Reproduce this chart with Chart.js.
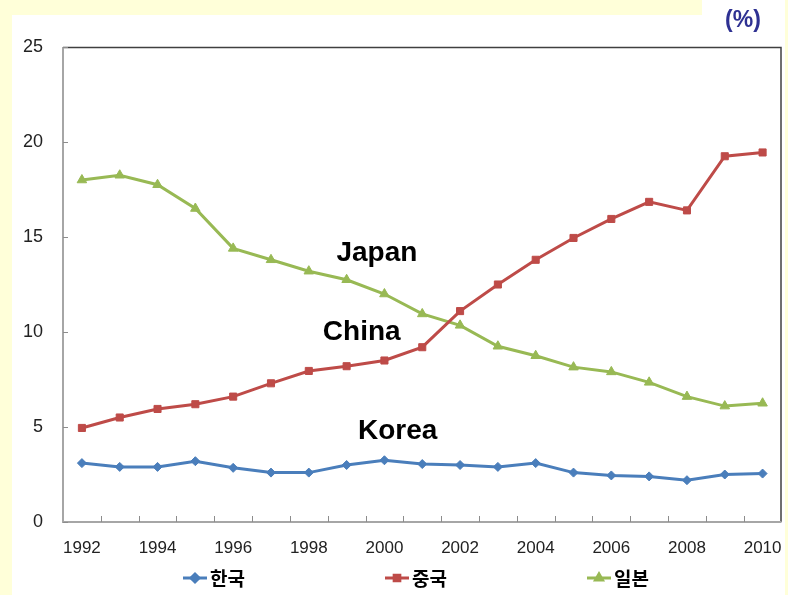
<!DOCTYPE html>
<html>
<head>
<meta charset="utf-8">
<script src="https://cdn.jsdelivr.net/npm/chart.js@4/dist/chart.umd.min.js"></script>
<style>
  html, body { margin: 0; padding: 0; background: #fff; }
  #wrap { width: 788px; height: 595px; position: relative; }
</style>
</head>
<body>
<div id="wrap"><canvas id="c" width="788" height="595"></canvas></div>
<script>
var years = ['1992','1993','1994','1995','1996','1997','1998','1999','2000','2001',
             '2002','2003','2004','2005','2006','2007','2008','2009','2010'];
var korea = [3.1, 2.9, 2.9, 3.2, 2.85, 2.6, 2.6, 3.0, 3.25, 3.05, 3.0, 2.9, 3.1, 2.6, 2.45, 2.4, 2.2, 2.5, 2.55];
var china = [4.95, 5.5, 5.95, 6.2, 6.6, 7.3, 7.95, 8.2, 8.5, 9.2, 11.1, 12.5, 13.8, 14.95, 15.95, 16.85, 16.4, 19.25, 19.45];
var japan = [18.0, 18.25, 17.75, 16.5, 14.4, 13.8, 13.2, 12.75, 12.0, 10.95, 10.35, 9.25, 8.75, 8.15, 7.9, 7.35, 6.6, 6.1, 6.25];
var seriesNames = ['한국', '중국', '일본'];
var yTicks = [0, 5, 10, 15, 20, 25];
// text labels placed in data space: [text, category index, value]
var callouts = [['Japan', 7.8, 14.15], ['China', 7.4, 10.0], ['Korea', 8.35, 4.75]];

var blue = '#4a7ebb', red = '#be4b48', green = '#98b954';

// yellow frame, plot frame, inside ticks, callouts and the legend
var decor = {
    id: 'decor',
    beforeDraw: function(chart) {
        var ctx = chart.ctx;
        ctx.save();
        ctx.fillStyle = '#ffffff';
        ctx.fillRect(0, 0, chart.width, chart.height);
        ctx.fillStyle = '#ffffd9';
        ctx.fillRect(0, 0, 12, chart.height);
        ctx.fillRect(0, 0, 702, 15);
        ctx.fillRect(785, 0, 3, chart.height);
        ctx.restore();
    },
    afterDatasetsDraw: function(chart) {
        var ctx = chart.ctx, a = chart.chartArea;
        var xs = chart.scales.x, ys = chart.scales.y;
        ctx.save();
        // top and right edges
        ctx.strokeStyle = '#404040';
        ctx.lineWidth = 1.5;
        ctx.beginPath();
        ctx.moveTo(a.left, a.top + 0.5);
        ctx.lineTo(a.right - 0.5, a.top + 0.5);
        ctx.lineTo(a.right - 0.5, a.bottom);
        ctx.stroke();
        // axes
        ctx.strokeStyle = '#a6a6a6';
        ctx.lineWidth = 2;
        ctx.beginPath();
        ctx.moveTo(a.left, a.top);
        ctx.lineTo(a.left, a.bottom);
        ctx.lineTo(a.right, a.bottom);
        ctx.stroke();
        // tick marks pointing into the plot
        ctx.lineWidth = 1;
        ctx.strokeStyle = '#8c8c8c';
        ctx.beginPath();
        yTicks.forEach(function(v) {
            var y = Math.round(ys.getPixelForValue(v)) + 0.5;
            ctx.moveTo(a.left, y);
            ctx.lineTo(a.left + 5, y);
        });
        for (var i = 1; i < years.length; i++) {
            var x = Math.round((xs.getPixelForValue(i - 1) + xs.getPixelForValue(i)) / 2) + 0.5;
            ctx.moveTo(x, a.bottom);
            ctx.lineTo(x, a.bottom - 6);
        }
        ctx.stroke();

        // callouts
        ctx.fillStyle = '#000';
        ctx.font = 'bold 28px "Liberation Sans", Arial, sans-serif';
        ctx.textAlign = 'center';
        ctx.textBaseline = 'middle';
        callouts.forEach(function(c) {
            ctx.fillText(c[0], xs.getPixelForValue(c[1]), ys.getPixelForValue(c[2]));
        });

        // unit
        ctx.fillStyle = '#2e3192';
        ctx.font = 'bold 23px "Liberation Sans", Arial, sans-serif';
        ctx.fillText('(%)', 743, 21);

        // legend
        var ly = 578, startX = 183, step = 202;
        chart.data.datasets.forEach(function(ds, k) {
            var x0 = startX + k * step;
            ctx.strokeStyle = ds.borderColor;
            ctx.lineWidth = 3;
            ctx.beginPath();
            ctx.moveTo(x0, ly);
            ctx.lineTo(x0 + 24, ly);
            ctx.stroke();
            Chart.helpers.drawPoint(ctx, {
                pointStyle: ds.pointStyle, radius: 4, rotation: 0, borderWidth: 1
            }, x0 + 12, ly);
            ctx.fillStyle = ds.borderColor;
            ctx.fill();
            ctx.fillStyle = '#000';
            ctx.textAlign = 'left';
            ctx.font = 'bold 19px "Noto Sans CJK KR", sans-serif';
            ctx.fillText(ds.label, x0 + 27, ly + 1);
        });
        ctx.restore();
    }
};

function series(label, data, color, style, r) {
    return {
        label: label,
        data: data,
        borderColor: color,
        backgroundColor: color,
        borderWidth: 3,
        pointStyle: style,
        pointRadius: r,
        pointBorderWidth: 1,
        tension: 0
    };
}

new Chart(document.getElementById('c'), {
    type: 'line',
    data: {
        labels: years,
        datasets: [
            series(seriesNames[0], korea, blue, 'rectRot', 4.5),
            series(seriesNames[1], china, red, 'rect', 5),
            series(seriesNames[2], japan, green, 'triangle', 5.5)
        ]
    },
    options: {
        responsive: false,
        animation: false,
        layout: { padding: { top: 47, right: 5, bottom: 0, left: 0 } },
        plugins: { legend: { display: false }, tooltip: { enabled: false } },
        scales: {
            x: {
                offset: true,
                grid: { display: false },
                border: { display: false },
                afterFit: function(s) {
                    s.height = 73;
                    s.paddingLeft = 0;
                    s.paddingRight = 0;
                },
                ticks: {
                    autoSkip: false,
                    maxRotation: 0,
                    padding: 8,
                    color: '#222',
                    font: { family: '"Liberation Sans", Arial, sans-serif', size: 17 },
                    callback: function(v, i) { return i % 2 === 0 ? years[i] : ''; }
                }
            },
            y: {
                min: 0,
                max: 25,
                grid: { display: false },
                border: { display: false },
                afterFit: function(s) {
                    s.width = 63;
                    s.paddingTop = 0;
                    s.paddingBottom = 0;
                },
                afterBuildTicks: function(s) {
                    s.ticks = yTicks.map(function(v) { return { value: v }; });
                },
                ticks: {
                    padding: 12,
                    color: '#222',
                    font: { family: '"Liberation Sans", Arial, sans-serif', size: 18 }
                }
            }
        }
    },
    plugins: [decor]
});
</script>
</body>
</html>
